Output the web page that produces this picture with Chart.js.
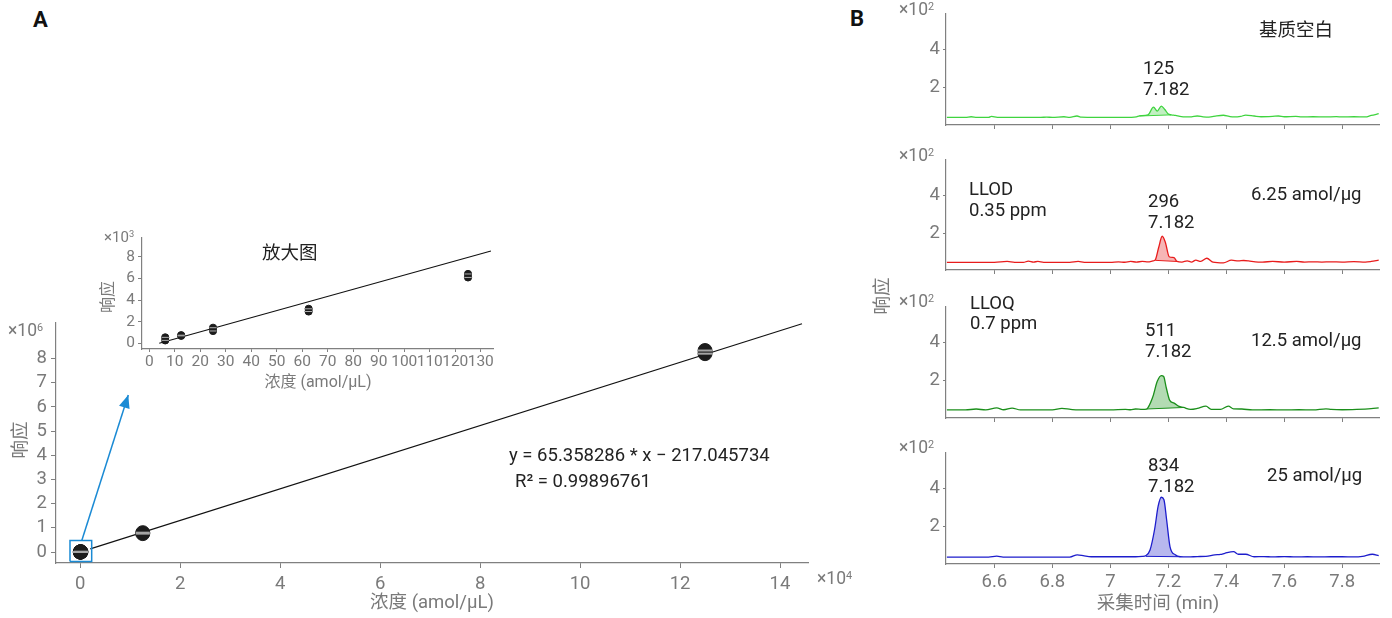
<!DOCTYPE html>
<html><head><meta charset="utf-8">
<script src="https://cdn.jsdelivr.net/npm/chart.js@4.4.1/dist/chart.umd.min.js"></script>
<style>
body{margin:0;background:#fff;}
#root{position:relative;width:1392px;height:618px;overflow:hidden;font-family:Roboto,"Noto Sans CJK SC",sans-serif;}
canvas{position:absolute;}
.t{position:absolute;white-space:nowrap;line-height:1;transform:translateY(-50%);}
.c{transform:translate(-50%,-50%);}
.rot{transform:translate(-50%,-50%) rotate(-90deg);}
.g{color:#7a7a7a;}
.k{color:#222;}
.a{font-size:18.5px;}
sup{font-size:0.62em;vertical-align:0.45em;line-height:0;}
</style></head>
<body><div id="root">
<canvas id="cMain" width="870" height="318" style="left:0;top:300px"></canvas>
<canvas id="cInset" width="405" height="150" style="left:95px;top:225px"></canvas>
<canvas id="cP1" width="502" height="141" style="left:890px;top:-1px"></canvas>
<canvas id="cP2" width="502" height="140" style="left:890px;top:145px"></canvas>
<canvas id="cP3" width="502" height="141" style="left:890px;top:292px"></canvas>
<canvas id="cP4" width="502" height="180" style="left:890px;top:438px"></canvas>

<div class="t" style="left:33px;top:20px;font-size:22px;font-weight:bold;color:#111">A</div>
<div class="t" style="left:850px;top:19px;font-size:22px;font-weight:bold;color:#111">B</div>

<div class="t g" style="left:8px;top:331px;font-size:17.5px">×10<sup>6</sup></div>
<div class="t g rot" style="left:20px;top:440px;font-size:18.5px">响应</div>
<div class="t g c" style="left:432px;top:602px;font-size:18.5px">浓度 (amol/μL)</div>
<div class="t g" style="left:817px;top:579px;font-size:17.5px">×10<sup>4</sup></div>
<div class="t k a" style="left:509px;top:455px">y = 65.358286 * x − 217.045734</div>
<div class="t k a" style="left:515px;top:481px">R² = 0.99896761</div>

<div class="t g" style="left:104px;top:237px;font-size:15px">×10<sup>3</sup></div>
<div class="t g rot" style="left:108px;top:297px;font-size:16px">响应</div>
<div class="t g c" style="left:318px;top:382px;font-size:16px">浓度 (amol/μL)</div>
<div class="t k a" style="left:262px;top:253px">放大图</div>

<div class="t g" style="left:899px;top:10px;font-size:17.5px">×10<sup>2</sup></div>
<div class="t g" style="left:899px;top:156px;font-size:17.5px">×10<sup>2</sup></div>
<div class="t g" style="left:899px;top:302px;font-size:17.5px">×10<sup>2</sup></div>
<div class="t g" style="left:899px;top:448px;font-size:17.5px">×10<sup>2</sup></div>
<div class="t g rot" style="left:882px;top:296px;font-size:18.5px">响应</div>
<div class="t g c" style="left:1158px;top:603px;font-size:18.5px">采集时间 (min)</div>

<div class="t k a" style="left:1259px;top:30px">基质空白</div>
<div class="t k a" style="left:1143px;top:68px">125</div>
<div class="t k a" style="left:1143px;top:89px">7.182</div>

<div class="t k a" style="left:969px;top:189px">LLOD</div>
<div class="t k a" style="left:969px;top:210px">0.35 ppm</div>
<div class="t k a" style="left:1148px;top:201px">296</div>
<div class="t k a" style="left:1148px;top:222px">7.182</div>
<div class="t k a" style="left:1251px;top:194px">6.25 amol/μg</div>

<div class="t k a" style="left:970px;top:303px">LLOQ</div>
<div class="t k a" style="left:970px;top:323px">0.7 ppm</div>
<div class="t k a" style="left:1145px;top:330px">511</div>
<div class="t k a" style="left:1145px;top:351px">7.182</div>
<div class="t k a" style="left:1251px;top:340px">12.5 amol/μg</div>

<div class="t k a" style="left:1148px;top:465px">834</div>
<div class="t k a" style="left:1148px;top:486px">7.182</div>
<div class="t k a" style="left:1267px;top:475px">25 amol/μg</div>
</div>
<script>
// ---------------- Data: calibration (panel A) ----------------
const conc = [6.25, 12.5, 25, 62.5, 125, 12500, 125000];          // amol/μL
const respRep1 = [280, 700, 1150, 2950, 6100, 760000, 8200000];     // response, replicate 1
const respRep2 = [560, 760, 1450, 3200, 6420, 800000, 8330000];     // response, replicate 2
const insetCount = 5;                                               // first points shown in inset
const fitMainX = [2000, 144400];
const fitMainY = [130000, 9440000];
const fitInsetX = [3.9, 134];
const fitInsetY = [20, 8550];
const zoomBoxX = [-2060, 2280];
const zoomBoxY = [-390000, 480000];
const arrowX = [300, 9600];
const arrowY = [480000, 6490000];
const mainXTicks = [0, 20000, 40000, 60000, 80000, 100000, 120000, 140000];
const mainYTicks = [0, 1e6, 2e6, 3e6, 4e6, 5e6, 6e6, 7e6, 8e6];
const insetXTicks = [0,10,20,30,40,50,60,70,80,90,100,110,120,130];
const insetYTicks = [0, 2000, 4000, 6000, 8000];

// ---------------- Data: chromatograms (panel B) ----------------
const t1 = [6.436,6.50,6.52,6.54,6.58,6.59,6.61,6.70,6.76,6.78,6.80,6.84,6.86,6.885,6.90,6.95,7.00,7.05,7.09,7.10,7.13,7.149,7.162,7.176,7.188,7.20,7.21,7.225,7.24,7.26,7.28,7.30,7.32,7.34,7.367,7.39,7.41,7.426,7.45,7.467,7.496,7.52,7.56,7.58,7.60,7.64,7.66,7.70,7.74,7.78,7.80,7.84,7.88,7.90,7.926];
const y1 = [45,45,48,45,45,50,45,45,45,46,45,48,45,52,46,45,45,45,48,53,58,98,78,104,86,62,58,55,50,47,48,52,48,46,53,56,50,47,50,57,52,48,50,52,48,50,47,48,47,49,47,48,47,55,64];
const t2 = [6.436,6.60,6.644,6.67,6.70,6.717,6.735,6.75,6.77,6.86,6.889,6.91,7.00,7.028,7.05,7.07,7.09,7.11,7.13,7.147,7.155,7.167,7.179,7.19,7.203,7.22,7.23,7.247,7.265,7.28,7.295,7.312,7.333,7.354,7.39,7.418,7.442,7.46,7.477,7.50,7.525,7.56,7.60,7.643,7.67,7.70,7.73,7.76,7.80,7.84,7.88,7.90,7.926];
const y2 = [45,45,50,45,45,52,47,50,45,45,50,45,45,48,46,50,47,50,48,53,58,125,183,150,75,70,50,47,53,47,57,50,67,47,43,57,53,55,53,48,47,50,47,50,47,48,47,48,47,49,47,50,57];
const t3 = [6.436,6.50,6.537,6.57,6.608,6.632,6.661,6.69,6.80,6.833,6.863,6.89,7.00,7.052,7.07,7.087,7.11,7.125,7.146,7.162,7.176,7.184,7.193,7.205,7.22,7.235,7.253,7.277,7.30,7.33,7.348,7.38,7.407,7.425,7.454,7.49,7.55,7.60,7.65,7.70,7.744,7.762,7.80,7.85,7.90,7.926];
const y3 = [47,47,52,47,58,48,57,47,47,55,50,47,47,50,48,52,50,52,113,197,227,222,163,97,83,67,60,50,55,67,50,50,67,53,52,47,48,47,48,47,53,50,48,50,54,58];
const t4 = [6.436,6.58,6.608,6.63,6.86,6.886,6.91,6.934,7.00,7.087,7.11,7.123,7.137,7.153,7.165,7.176,7.185,7.194,7.206,7.224,7.241,7.27,7.30,7.33,7.36,7.38,7.395,7.425,7.442,7.467,7.496,7.53,7.56,7.60,7.64,7.68,7.72,7.76,7.80,7.84,7.87,7.904,7.926];
const y4 = [41,41,46,41,41,53,47,43,43,43,45,49,78,188,307,354,341,239,95,53,43,42,44,45,53,55,61,70,56,56,43,44,42,44,42,43,42,43,43,42,45,56,49];
const peakWin1 = [7.10, 7.21],  peakBase1 = [52, 58];
const peakWin2 = [7.155, 7.23], peakBase2 = [56, 50];
const peakWin3 = [7.125, 7.253], peakBase3 = [52, 60];
const peakWin4 = [7.123, 7.241], peakBase4 = [45, 43];
const chromXTicks = [6.6, 6.8, 7.0, 7.2, 7.4, 7.6, 7.8];
const chromYTicks = [200, 400];

// ---------------- Rendering ----------------
const FONT = 'Roboto, "Noto Sans CJK SC", sans-serif';
const AX = '#808080', TXT = '#7a7a7a';
Chart.defaults.font.family = FONT;

function pts(xs, ys) { return xs.map((x, i) => ({x, y: ys[i]})); }

const arrowPlugin = {
  id: 'arrowHead',
  afterDatasetsDraw(chart) {
    chart.data.datasets.forEach((ds, i) => {
      if (!ds.arrowHead) return;
      const m = chart.getDatasetMeta(i).data;
      const p0 = m[0], p1 = m[m.length - 1];
      const a = Math.atan2(p1.y - p0.y, p1.x - p0.x);
      const L = 13, W = 5.5, ctx = chart.ctx;
      ctx.save();
      ctx.fillStyle = ds.borderColor;
      ctx.beginPath();
      ctx.moveTo(p1.x, p1.y);
      ctx.lineTo(p1.x - L * Math.cos(a) + W * Math.sin(a), p1.y - L * Math.sin(a) - W * Math.cos(a));
      ctx.lineTo(p1.x - L * Math.cos(a) - W * Math.sin(a), p1.y - L * Math.sin(a) + W * Math.cos(a));
      ctx.closePath();
      ctx.fill();
      ctx.restore();
    });
  }
};

function scale(o) {
  return {
    type: 'linear', min: o.min, max: o.max,
    afterBuildTicks: s => { s.ticks = o.ticks.map(v => ({value: v})); },
    afterFit: s => { if (o.w !== undefined) s.width = o.w; if (o.h !== undefined) s.height = o.h; },
    ticks: {display: o.labels !== false, callback: o.fmt, color: TXT, font: {size: o.fs, family: FONT},
            padding: o.pad, autoSkip: false, maxRotation: 0, minRotation: 0},
    grid: {drawOnChartArea: false, tickLength: o.tl, color: AX, lineWidth: 1},
    border: {display: true, color: AX, width: 1.2}
  };
}

function baseOpts(padding, sx, sy) {
  return {
    responsive: false, animation: false, devicePixelRatio: 1,
    layout: {padding},
    plugins: {legend: {display: false}, tooltip: {enabled: false}},
    scales: {x: sx, y: sy}
  };
}

// Panel A main
const repPts = pts(conc, respRep1).concat(pts(conc, respRep2));
const boxPts = [
  {x: zoomBoxX[0], y: zoomBoxY[0]}, {x: zoomBoxX[1], y: zoomBoxY[0]},
  {x: zoomBoxX[1], y: zoomBoxY[1]}, {x: zoomBoxX[0], y: zoomBoxY[1]}, {x: zoomBoxX[0], y: zoomBoxY[0]}];

function drawAll() {
new Chart(document.getElementById('cMain'), {
  type: 'scatter',
  data: {datasets: [
    {data: pts(fitMainX, fitMainY), showLine: true, borderColor: '#111', borderWidth: 1.1, pointRadius: 0, order: 4},
    {data: repPts, backgroundColor: '#1c1c1c', borderColor: '#1c1c1c', pointRadius: 7, order: 3},
    {data: repPts, pointStyle: 'line', pointRadius: 7, borderColor: '#a5a5a5', borderWidth: 2, order: 2},
    {data: boxPts, showLine: true, borderColor: '#1a8ad4', borderWidth: 1.5, pointRadius: 0, order: 1},
    {data: pts(arrowX, arrowY), showLine: true, borderColor: '#1a8ad4', borderWidth: 1.5, pointRadius: 0, order: 0, arrowHead: true}
  ]},
  options: baseOpts({top: 23, right: 62, left: 0, bottom: 0},
    scale({min: -4860, max: 145600, ticks: mainXTicks, fmt: v => v / 1e4, fs: 18.5, pad: 5, tl: 5, h: 55}),
    scale({min: -454000, max: 9468000, ticks: mainYTicks, fmt: v => v / 1e6, fs: 18.5, pad: 4, tl: 5, w: 56})),
  plugins: [arrowPlugin]
});

// Panel A inset
const insetPts = pts(conc.slice(0, insetCount), respRep1.slice(0, insetCount))
  .concat(pts(conc.slice(0, insetCount), respRep2.slice(0, insetCount)));
new Chart(document.getElementById('cInset'), {
  type: 'scatter',
  data: {datasets: [
    {data: pts(fitInsetX, fitInsetY), showLine: true, borderColor: '#111', borderWidth: 1.1, pointRadius: 0, order: 3},
    {data: insetPts, backgroundColor: '#1c1c1c', borderColor: '#1c1c1c', pointRadius: 3.6, order: 2},
    {data: insetPts, pointStyle: 'line', pointRadius: 3.6, borderColor: '#b0b0b0', borderWidth: 1, order: 1}
  ]},
  options: baseOpts({top: 10, right: 7, left: 0, bottom: 0},
    scale({min: -2.86, max: 134.8, ticks: insetXTicks, fmt: v => v, fs: 15.5, pad: 1, tl: 3, h: 26}),
    scale({min: -516, max: 9810, ticks: insetYTicks, fmt: v => v / 1000, fs: 15.5, pad: 3, tl: 4, w: 47}))
});

// Panel B chromatograms
function chrom(id, t, y, win, base, line, fill, padTop, xh, labels) {
  const tr = pts(t, y);
  const peak = tr.filter(p => p.x >= win[0] - 1e-9 && p.x <= win[1] + 1e-9);
  new Chart(document.getElementById(id), {
    type: 'scatter',
    data: {datasets: [
      {data: tr, showLine: true, borderColor: line, borderWidth: 1.3, pointRadius: 0, cubicInterpolationMode: 'monotone', order: 0},
      {data: pts(win, base), showLine: true, borderColor: line, borderWidth: 1, pointRadius: 0, order: 1},
      {data: peak, showLine: true, borderWidth: 0, borderColor: 'rgba(0,0,0,0)', backgroundColor: fill, fill: '-1', pointRadius: 0, cubicInterpolationMode: 'monotone', order: 2}
    ]},
    options: baseOpts({top: padTop, right: 13, left: 0, bottom: 0},
      scale({min: 6.433, max: 7.927, ticks: chromXTicks, fmt: v => Number(v.toFixed(1)), fs: 18.5, pad: 3, tl: 4, h: xh, labels}),
      scale({min: 5, max: 590, ticks: chromYTicks, fmt: v => v / 100, fs: 18.5, pad: 3, tl: 3, w: 56}))
  });
}
chrom('cP1', t1, y1, peakWin1, peakBase1, '#3fd43f', '#c2efc2', 6, 15, false);
chrom('cP2', t2, y2, peakWin2, peakBase2, '#e81c1c', '#f6b5b5', 6, 15, false);
chrom('cP3', t3, y3, peakWin3, peakBase3, '#1b8f1b', '#b3dbb3', 6, 15, false);
chrom('cP4', t4, y4, peakWin4, peakBase4, '#1d1dcc', '#b8b8ee', 6, 54, true);
}
if (document.fonts && document.fonts.load) {
  Promise.all([document.fonts.load('17px Roboto'), document.fonts.load('17px "Noto Sans CJK SC"')]).then(drawAll, drawAll);
} else drawAll();
</script>
</body></html>
